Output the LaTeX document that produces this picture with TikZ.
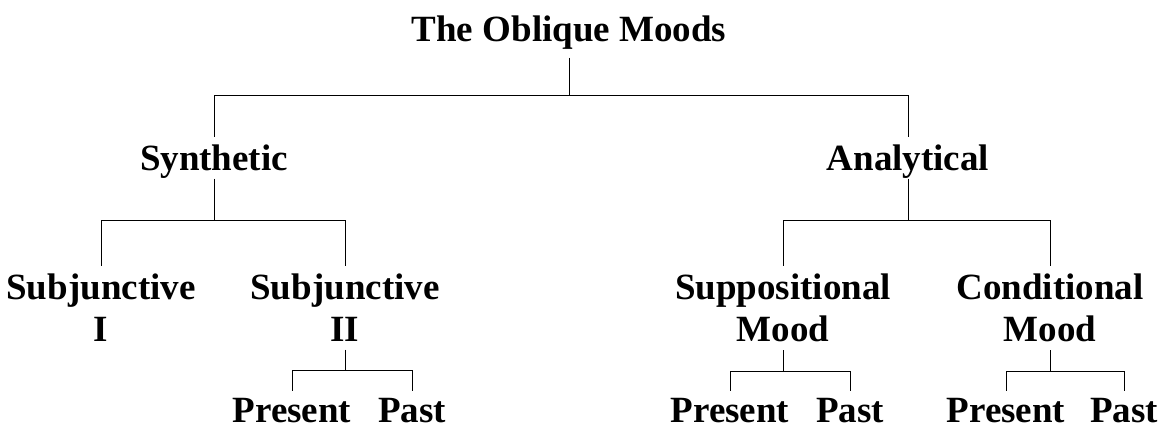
\documentclass[tikz,border=0pt]{standalone}
\usepackage{fontspec}
\setmainfont{Liberation Serif}
\usepackage{tikz}
\usetikzlibrary{positioning}

\begin{document}
\begin{tikzpicture}[
    x=1pt, y=1pt,
    font=\fontsize{37}{42}\selectfont\bfseries,
    term/.style={anchor=base, align=center, inner xsep=2pt, inner ysep=0pt,
                 outer ysep=8pt},
    branch/.style={line width=1pt}
  ]
    \useasboundingbox (0,0) rectangle (1163,430);

    \node[term] (root) at (569,388) {The Oblique Moods};

    \node[term, text depth=0pt] (syn) at (214,259) {Synthetic};
    \node[term, text depth=0pt] (ana) at (908,259) {Analytical};

    % base of a two-line node is its last line
    \node[term] (subj1) at (101,88) {Subjunctive\\I};
    \node[term] (subj2) at (345,88) {Subjunctive\\II};
    \node[term] (supp)  at (783,88) {Suppositional\\Mood};
    \node[term] (cond)  at (1050,88) {Conditional\\Mood};

    \node[term] (pres1) at (292,7)  {Present};
    \node[term] (past1) at (412,7)  {Past};
    \node[term] (pres2) at (730,7)  {Present};
    \node[term] (past2) at (850,7)  {Past};
    \node[term] (pres3) at (1006,7) {Present};
    \node[term] (past3) at (1124,7) {Past};

    \draw[branch] (root.south) -- ++(0,-38) -| (syn.north);
    \draw[branch] (root.south) -- ++(0,-38) -| (ana.north);

    \draw[branch] (syn.south) -- ++(0,-42) -| (subj1.north);
    \draw[branch] (syn.south) -- ++(0,-42) -| (subj2.north);
    \draw[branch] (ana.south) -- ++(0,-42) -| (supp.north);
    \draw[branch] (ana.south) -- ++(0,-42) -| (cond.north);

    \draw[branch] (subj2.south) -- ++(0,-21) -| (pres1.north);
    \draw[branch] (subj2.south) -- ++(0,-21) -| (past1.north);
    \draw[branch] (supp.south)  -- ++(0,-21) -| (pres2.north);
    \draw[branch] (supp.south)  -- ++(0,-21) -| (past2.north);
    \draw[branch] (cond.south)  -- ++(0,-21) -| (pres3.north);
    \draw[branch] (cond.south)  -- ++(0,-21) -| (past3.north);
\end{tikzpicture}
\end{document}
